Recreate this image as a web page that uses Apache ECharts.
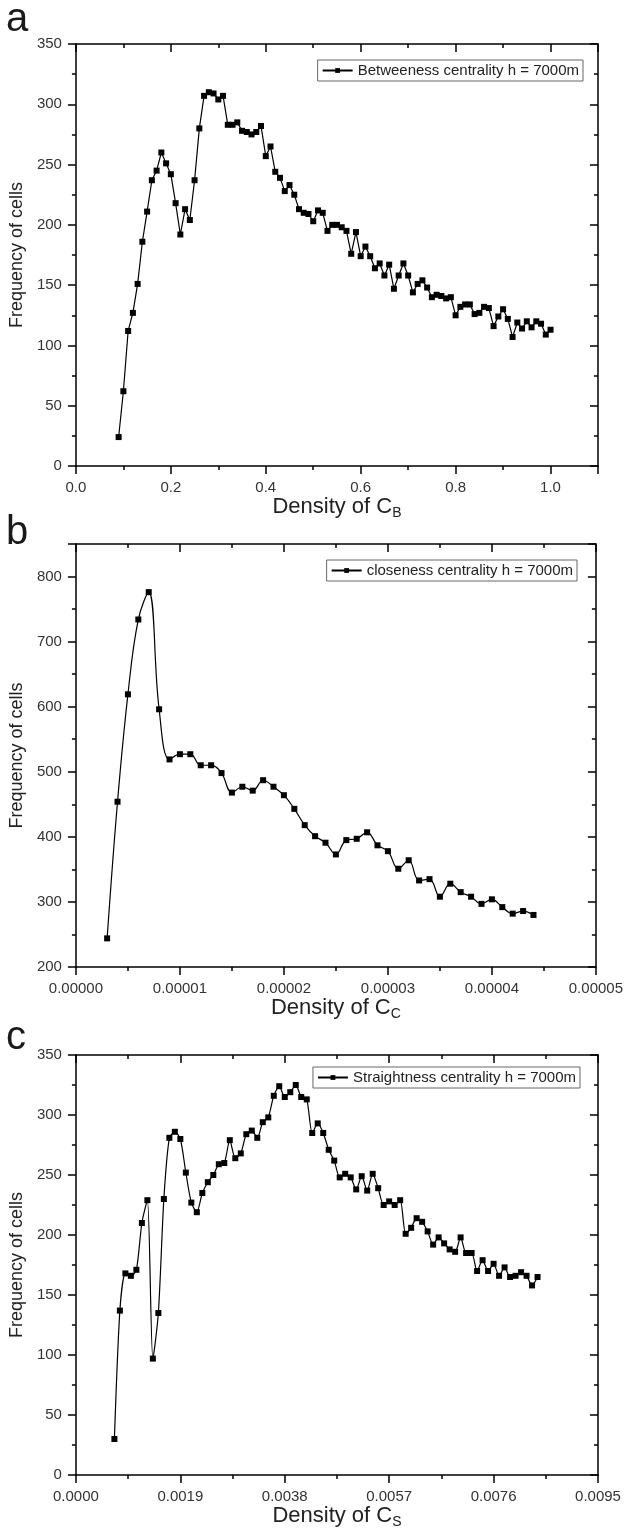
<!DOCTYPE html>
<html>
<head>
<meta charset="utf-8">
<script src="https://cdn.jsdelivr.net/npm/echarts@6/dist/echarts.min.js"></script>
<style>
html,body{margin:0;padding:0;background:#fff;}
#chart{width:626px;height:1535px;}
</style>
</head>
<body>
<div id="chart"></div>
<script>
// Panel a: Betweeness centrality
var aX = [0.09,0.10,0.11,0.12,0.13,0.14,0.15,0.16,0.17,0.18,
          0.19,0.20,0.21,0.22,0.23,0.24,0.25,0.26,0.27,0.28,
          0.29,0.30,0.31,0.32,0.33,0.34,0.35,0.36,0.37,0.38,
          0.39,0.40,0.41,0.42,0.43,0.44,0.45,0.46,0.47,0.48,
          0.49,0.50,0.51,0.52,0.53,0.54,0.55,0.56,0.57,0.58,
          0.59,0.60,0.61,0.62,0.63,0.64,0.65,0.66,0.67,0.68,
          0.69,0.70,0.71,0.72,0.73,0.74,0.75,0.76,0.77,0.78,
          0.79,0.80,0.81,0.82,0.83,0.84,0.85,0.86,0.87,0.88,
          0.89,0.90,0.91,0.92,0.93,0.94,0.95,0.96,0.97,0.98,
          0.99,1.00];
var aY = [24,62,112,127,151,186,211,237,245,260,
          251,242,218,192,213,204,237,280,307,310,
          309,304,307,283,283,285,278,277,275,277,
          282,257,265,244,239,228,233,225,213,210,
          209,203,212,210,195,200,200,198,195,176,
          194,174,182,174,164,168,158,167,147,158,
          168,158,144,151,154,148,140,142,141,139,
          140,125,132,134,134,126,127,132,131,116,
          124,130,122,107,119,114,120,115,120,118,
          109,113];

// Panel b: closeness centrality
var bX = [3e-6,4e-6,5e-6,6e-6,7e-6,8e-6,9e-6,10e-6,11e-6,12e-6,
          13e-6,14e-6,15e-6,16e-6,17e-6,18e-6,19e-6,20e-6,21e-6,22e-6,
          23e-6,24e-6,25e-6,26e-6,27e-6,28e-6,29e-6,30e-6,31e-6,32e-6,
          33e-6,34e-6,35e-6,36e-6,37e-6,38e-6,39e-6,40e-6,41e-6,42e-6,
          43e-6,44e-6];
var bY = [244,454,619,734,776,596,519,527,527,510,
          510,498,468,477,471,487,477,464,443,418,
          401,391,373,395,397,407,387,378,351,364,
          333,335,308,328,315,308,297,304,292,282,
          286,280];

// Panel c: Straightness centrality
var cX = [0.0007,0.0008,0.0009,0.0010,0.0011,0.0012,0.0013,0.0014,0.0015,0.0016,
          0.0017,0.0018,0.0019,0.0020,0.0021,0.0022,0.0023,0.0024,0.0025,0.0026,
          0.0027,0.0028,0.0029,0.0030,0.0031,0.0032,0.0033,0.0034,0.0035,0.0036,
          0.0037,0.0038,0.0039,0.0040,0.0041,0.0042,0.0043,0.0044,0.0045,0.0046,
          0.0047,0.0048,0.0049,0.0050,0.0051,0.0052,0.0053,0.0054,0.0055,0.0056,
          0.0057,0.0058,0.0059,0.0060,0.0061,0.0062,0.0063,0.0064,0.0065,0.0066,
          0.0067,0.0068,0.0069,0.0070,0.0071,0.0072,0.0073,0.0074,0.0075,0.0076,
          0.0077,0.0078,0.0079,0.0080,0.0081,0.0082,0.0083,0.0084];
var cY = [30,137,168,166,171,210,229,97,135,230,
          281,286,280,252,227,219,235,244,250,259,
          260,279,264,268,284,287,281,294,298,316,
          324,315,319,325,315,313,285,293,285,271,
          262,248,251,248,238,249,237,251,239,225,
          228,225,229,201,206,214,211,203,192,198,
          193,188,186,198,185,185,170,179,170,176,
          166,173,165,166,169,166,158,165];

var seriesNames = ['Betweeness centrality h = 7000m','closeness centrality h = 7000m','Straightness centrality h = 7000m'];
var panelLetters = ['a','b','c'];
var xTitleSubs = ['B','C','S'];

var FONT = 'Liberation Sans, Arial, sans-serif';
var chart = echarts.init(document.getElementById('chart'), null, {renderer:'canvas'});

var grids = [
  {left:73, top:44, width:525, height:422},
  {left:73, top:544, width:525, height:423},
  {left:73, top:1055, width:525, height:420}
];
var xSpecs = [
  {min:0, max:1.1, interval:0.2, showMax:false, fmt:function(v){return v.toFixed(1);}},
  {min:0, max:0.00005, interval:0.00001, showMax:true, fmt:function(v){return v.toFixed(5);}},
  {min:0, max:0.0095, interval:0.0019, showMax:true, fmt:function(v){return v.toFixed(4);}}
];
var ySpecs = [
  {min:0, max:350, interval:50, showMax:true},
  {min:200, max:850, interval:100, showMax:false},
  {min:0, max:350, interval:50, showMax:true}
];
var lineStyleAxis = {color:'#000', width:1.5};
var xAxes = [], yAxes = [], series = [], legends = [], graphics = [];
var datasets = [[aX,aY],[bX,bY],[cX,cY]];
var smooths = [false, 0.4, 0.25];

for (var i=0;i<3;i++){
  var xs = xSpecs[i], ys = ySpecs[i];
  xAxes.push({
    type:'value', gridIndex:i, position:'bottom', min:xs.min, max:xs.max, interval:xs.interval,
    axisLine:{show:true, onZero:false, lineStyle:lineStyleAxis},
    axisTick:{show:true, inside:false, length:8, lineStyle:{color:'#000', width:1.5}},
    minorTick:{show:true, splitNumber:2, length:4, lineStyle:{color:'#000', width:1.5}},
    splitLine:{show:false},
    axisLabel:{show:true, margin:14, fontFamily:FONT, fontSize:15, color:'#333', formatter:xs.fmt,
      showMaxLabel:xs.showMax},
    name:'{n|Density of C}{s|' + xTitleSubs[i] + '}', nameLocation:'middle', nameGap:19,
    nameTextStyle:{rich:{
      n:{fontFamily:FONT, fontSize:22, color:'#222', lineHeight:24, verticalAlign:'top'},
      s:{fontFamily:FONT, fontSize:14, color:'#222', lineHeight:24, verticalAlign:'bottom'}
    }}
  });
  xAxes.push({
    type:'value', gridIndex:i, position:'top', min:xs.min, max:xs.max, interval:xs.interval,
    axisLine:{show:true, onZero:false, lineStyle:lineStyleAxis},
    axisTick:{show:true, inside:true, length:8, lineStyle:{color:'#000', width:1.5}},
    minorTick:{show:true, splitNumber:2, length:4, lineStyle:{color:'#000', width:1.5}},
    splitLine:{show:false}, axisLabel:{show:false}
  });
  yAxes.push({
    type:'value', gridIndex:i, position:'left', min:ys.min, max:ys.max, interval:ys.interval,
    axisLine:{show:true, onZero:false, lineStyle:lineStyleAxis},
    axisTick:{show:true, inside:false, length:8, lineStyle:{color:'#000', width:1.5}},
    minorTick:{show:true, splitNumber:2, length:4, lineStyle:{color:'#000', width:1.5}},
    splitLine:{show:false},
    axisLabel:{show:true, margin:14, fontFamily:FONT, fontSize:15, color:'#333',
      showMaxLabel:ys.showMax},
    name:'Frequency of cells', nameLocation:'middle', nameGap:42, nameRotate:90,
    nameTextStyle:{fontFamily:FONT, fontSize:18, color:'#222'}
  });
  yAxes.push({
    type:'value', gridIndex:i, position:'right', min:ys.min, max:ys.max, interval:ys.interval,
    axisLine:{show:true, onZero:false, lineStyle:lineStyleAxis},
    axisTick:{show:true, inside:true, length:8, lineStyle:{color:'#000', width:1.5}},
    minorTick:{show:true, splitNumber:2, length:4, lineStyle:{color:'#000', width:1.5}},
    splitLine:{show:false}, axisLabel:{show:false}
  });
  var xsArr = datasets[i][0], ysArr = datasets[i][1];
  series.push({
    type:'line', name:seriesNames[i], xAxisIndex:i*2, yAxisIndex:i*2,
    data: xsArr.map(function(x,k){ return [x, ysArr[k]]; }),
    smooth: smooths[i],
    symbol:'rect', symbolSize:6, showSymbol:true,
    lineStyle:{color:'#000', width:1.2},
    itemStyle:{color:'#000'},
    animation:false
  });
  legends.push({
    data:[seriesNames[i]],
    right: [43, 49, 46][i],
    top: [60, 560, 1067][i],
    orient:'horizontal',
    itemWidth:30, itemHeight:6, itemGap:4,
    padding:[3,4,3,4],
    borderColor:'#666', borderWidth:1, borderRadius:0,
    backgroundColor:'#fff',
    textStyle:{fontFamily:FONT, fontSize:15, color:'#222'},
    selectedMode:false
  });
  graphics.push({
    type:'text', left:6, top:[0,513,1018][i],
    style:{text:panelLetters[i], font:'40px ' + FONT, fill:'#1a1a1a'}
  });
}

chart.setOption({
  animation:false,
  backgroundColor:'#fff',
  grid:grids,
  xAxis:xAxes,
  yAxis:yAxes,
  legend:legends,
  series:series,
  graphic:graphics
});
</script>
</body>
</html>
